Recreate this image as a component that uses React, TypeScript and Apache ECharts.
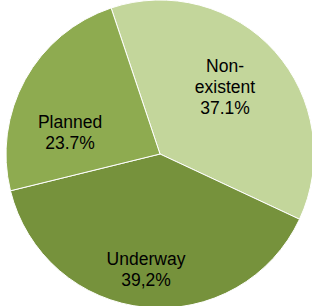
import React, { useEffect, useRef } from "react";
import * as echarts from "echarts";

const categories = ["Non-\nexistent", "Underway", "Planned"];
const values = [37.1, 39.2, 23.7];
const valueLabels = ["37.1%", "39,2%", "23.7%"];
const colors = ["#c3d69b", "#76923c", "#8eab50"];
const labelSpots: [number, number][] = [
  [225, 87],
  [146, 269],
  [70, 132],
];

export default function App() {
  const ref = useRef<HTMLDivElement>(null);
  useEffect(() => {
    document.body.style.margin = "0";
    const chart = echarts.init(ref.current!, null, { renderer: "svg" });
    chart.setOption({
      animation: false,
      series: [
        {
          type: "pie",
          center: [160, 154],
          radius: [0, 154],
          startAngle: 108.5,
          clockwise: true,
          avoidLabelOverlap: false,
          itemStyle: { borderColor: "#ffffff", borderWidth: 1 },
          label: {
            show: true,
            position: "inside",
            formatter: (p: any) => `${categories[p.dataIndex]}\n${valueLabels[p.dataIndex]}`,
            fontFamily: "Liberation Sans, Arial, sans-serif",
            fontSize: 17.5,
            lineHeight: 21,
            color: "#000000",
            align: "center",
            verticalAlign: "middle",
          },
          labelLayout: (params: any) => ({
            x: labelSpots[params.dataIndex][0],
            y: labelSpots[params.dataIndex][1],
            align: "center",
            verticalAlign: "middle",
          }),
          data: categories.map((c, i) => ({
            name: c,
            value: values[i],
            itemStyle: { color: colors[i] },
          })),
        },
      ],
    });
    return () => chart.dispose();
  }, []);
  return <div ref={ref} style={{ width: 312, height: 306 }} />;
}
